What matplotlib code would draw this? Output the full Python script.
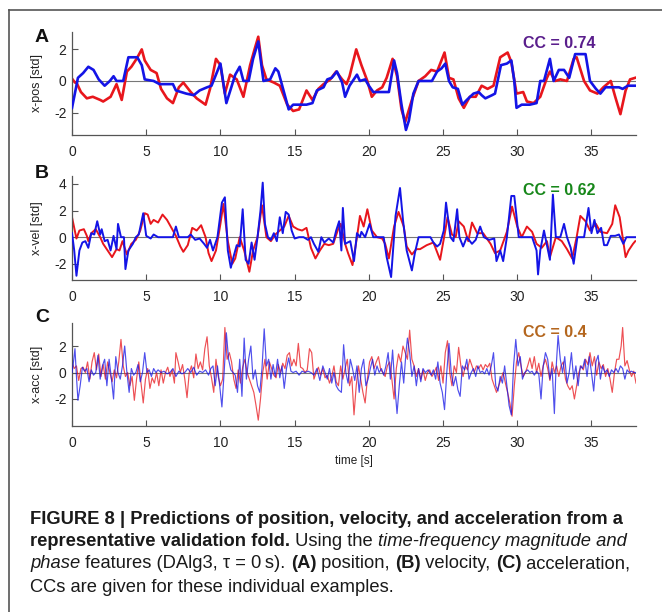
import matplotlib
matplotlib.use('Agg')
import matplotlib.pyplot as plt
from matplotlib import font_manager
import numpy as np

pos_real = [(0, 0.15), (0.2, -0.1), (0.3, -0.1), (0.6, -0.7), (1.0, -1.1), (1.4, -1.0), (1.9, -1.2), (2.1, -1.3),
            (2.6, -1.0), (3.0, -0.2), (3.35, -1.2), (3.7, 0.6), (4.0, 0.9), (4.35, 1.4), (4.7, 2.0), (4.9, 1.3),
            (5.3, 0.7), (5.7, 0.5), (6.0, -0.5), (6.4, -1.1), (6.8, -1.4), (7.2, -0.4), (7.5, -0.1), (8.0, -0.7),
            (8.4, -1.1), (9.0, -1.5), (9.3, -0.5), (9.7, 1.4), (10.0, 1.0), (10.3, -0.8), (10.65, 0.4), (11.1, 0.1),
            (11.55, -1.0), (12.0, 1.0), (12.3, 2.0), (12.55, 2.8), (12.8, 1.0), (13.1, 0.1), (13.6, -0.1), (14.0, -0.3),
            (14.5, -1.5), (14.9, -1.9), (15.3, -1.8), (15.8, -0.6), (16.2, -1.2), (16.6, -0.5), (16.95, -0.2),
            (17.4, 0.1), (17.8, 0.6), (18.2, 0.1), (18.5, -0.2), (18.7, 0.3), (19.15, 2.0), (19.5, 1.0), (19.9, 0.0),
            (20.2, -1.0), (20.55, -0.6), (20.9, -0.4), (21.2, 0.2), (21.6, 1.4), (21.9, 0.3), (22.2, -1.8),
            (22.45, -2.6), (22.9, -1.2), (23.35, 0.0), (23.8, 0.3), (24.2, 0.7), (24.6, 0.6), (25.1, 1.8), (25.4, 0.2),
            (25.7, 0.1), (26.05, -1.1), (26.4, -1.7), (26.8, -1.0), (27.2, -1.0), (27.6, -0.3), (28.0, -0.5),
            (28.4, -0.3), (28.85, 1.5), (29.35, 1.8), (29.6, 1.2), (29.95, -0.8), (30.4, -0.7), (30.65, -1.3),
            (31.1, -1.4), (31.55, -1.0), (32.0, 0.2), (32.2, 0.6), (32.55, 0.0), (32.9, 0.1), (33.35, 0.0),
            (33.8, 1.4), (34.0, 1.5), (34.5, 0.0), (34.9, -0.6), (35.4, -0.8), (35.8, -0.4), (36.3, 0.0), (36.6, -1.0),
            (36.95, -2.1), (37.3, -0.6), (37.6, 0.1), (37.95, 0.2)]

pos_pred = [(0, -1.7), (0.15, -1.0), (0.4, 0.2), (0.75, 0.5), (1.1, 0.9), (1.45, 0.7), (1.8, 0.1), (2.2, -0.3),
            (2.55, 0.0), (2.8, 0.3), (3.0, 0.0), (3.45, 0.0), (3.8, 1.5), (4.4, 1.5), (4.7, 1.0), (4.9, 0.1),
            (5.5, 0.0), (5.9, -0.2), (6.8, -0.2), (7.0, -0.6), (7.7, -0.8), (8.2, -0.9), (8.6, -0.6), (9.1, -0.4),
            (9.4, -0.3), (10.0, 1.1), (10.4, -1.4), (10.8, -0.2), (11.0, 0.4), (11.3, 0.9), (11.55, 0.0), (11.9, 0.0),
            (12.2, 1.4), (12.55, 2.5), (12.9, 0.0), (13.35, 0.1), (13.7, 0.8), (13.9, 0.6), (14.25, -0.6),
            (14.6, -1.8), (14.9, -1.5), (15.8, -1.5), (16.2, -1.4), (16.5, -0.6), (16.95, -0.4), (17.2, 0.1),
            (17.5, 0.2), (17.85, 0.6), (18.2, -0.1), (18.4, -1.0), (18.7, -0.3), (19.2, 0.4), (19.4, 0.0),
            (19.75, 0.1), (20.0, -0.3), (20.3, -0.7), (21.0, -0.7), (21.35, -0.7), (21.7, 1.3), (21.9, 0.5),
            (22.2, -1.5), (22.5, -3.1), (22.7, -2.5), (23.0, -0.8), (23.35, 0.0), (24.25, 0.0), (24.6, 0.6),
            (24.9, 0.8), (25.15, 1.1), (25.4, 0.0), (25.65, -0.4), (26.0, -0.5), (26.3, -1.5), (26.6, -1.2),
            (27.05, -0.8), (27.4, -0.7), (27.6, -0.9), (27.85, -1.1), (28.3, -0.9), (28.5, -0.8), (28.9, 1.0),
            (29.3, 1.1), (29.6, 1.3), (29.8, 0.0), (29.95, -1.7), (30.3, -1.5), (30.85, -1.5), (31.3, -1.4),
            (31.55, 0.0), (31.8, 0.0), (32.2, 1.4), (32.45, 0.0), (32.8, 0.7), (33.15, 0.7), (33.5, 0.2), (33.9, 1.7),
            (34.6, 1.7), (34.9, 0.0), (35.3, -0.5), (35.6, -0.8), (35.95, -0.4), (36.85, -0.4), (37.1, -0.5),
            (37.45, -0.3), (38.0, -0.3)]

vel_real = [(0, 1.5), (0.3, -0.1), (0.5, 0.5), (0.8, 0.6), (1.0, 0.1), (1.1, -0.3), (1.3, 0.3), (1.6, 0.6),
            (1.9, 0.0), (2.1, -0.5), (2.4, -1.0), (2.7, -1.5), (3.0, -0.9), (3.2, -1.0), (3.4, -0.3), (3.7, -1.3),
            (4.0, -0.5), (4.3, -0.2), (4.6, 0.5), (4.9, 1.8), (5.1, 1.7), (5.3, 1.0), (5.5, 1.3), (5.8, 1.1),
            (6.1, 1.7), (6.4, 1.3), (6.7, 0.7), (7.0, 0.1), (7.3, -0.7), (7.5, -1.1), (7.8, -0.6), (8.1, 0.7),
            (8.4, 0.5), (8.7, 0.9), (9.0, 0.0), (9.2, -1.2), (9.4, -1.8), (9.7, -1.0), (10.0, 1.0), (10.2, 2.5),
            (10.5, -0.3), (10.8, -2.0), (11.0, -1.6), (11.3, 0.0), (11.6, -1.0), (11.95, -2.6), (12.2, -1.0),
            (12.5, 0.0), (12.8, 2.4), (13.1, 0.0), (13.4, -0.3), (13.7, 0.2), (14.0, 0.5), (14.3, 0.8), (14.6, 1.6),
            (14.9, 0.8), (15.2, 0.6), (15.5, 0.5), (15.8, 0.7), (16.1, -0.8), (16.4, -1.6), (16.7, -1.0),
            (17.0, -0.5), (17.3, -0.6), (17.6, -0.5), (17.9, 0.5), (18.1, 1.0), (18.4, -0.5), (18.6, -1.2),
            (18.9, -2.1), (19.2, 0.0), (19.4, 1.6), (19.65, 0.8), (19.9, 2.1), (20.2, 0.5), (20.55, 0.0),
            (20.9, -0.1), (21.1, -0.5), (21.35, -1.6), (21.7, 0.8), (22.0, 1.9), (22.35, 0.8), (22.55, -0.7),
            (22.9, -1.3), (23.2, -0.9), (23.45, -0.9), (23.9, -0.6), (24.35, -0.4), (24.8, -1.7), (25.15, 0.5),
            (25.3, 1.5), (25.6, 0.2), (25.85, 0.0), (26.05, 1.2), (26.4, 0.8), (26.7, -0.3), (26.95, 1.1),
            (27.3, 0.3), (27.7, 0.3), (28.2, -0.5), (28.5, -1.2), (28.85, -1.0), (29.3, 0.4), (29.65, 2.3),
            (30.0, 0.8), (30.3, 0.0), (30.65, 0.8), (31.0, 0.4), (31.3, -0.5), (31.65, -0.8), (32.0, -0.3),
            (32.2, -1.5), (32.6, 0.0), (33.0, -0.3), (33.35, -0.9), (33.7, -1.6), (34.0, 0.0), (34.25, 1.6),
            (34.6, 1.2), (34.9, 0.5), (35.3, 1.0), (35.6, 0.4), (36.05, 0.3), (36.4, 1.0), (36.6, 2.4), (36.9, 1.5),
            (37.1, 0.0), (37.3, -1.5), (37.5, -1.0), (37.8, -0.5), (37.95, -0.3)]

vel_pred = [(0, 0.3), (0.15, -1.0), (0.3, -2.9), (0.5, -1.0), (0.7, -0.4), (0.9, -0.3), (1.1, -0.8), (1.3, 0.3),
            (1.5, 0.2), (1.7, 1.2), (1.9, 0.2), (2.0, 0.6), (2.2, -0.3), (2.4, -0.2), (2.6, -1.0), (2.8, 0.1),
            (3.0, -0.9), (3.1, 1.0), (3.3, 0.0), (3.5, 0.0), (3.6, -2.4), (3.8, -1.0), (4.1, -0.5), (4.3, 0.0),
            (4.5, 0.2), (4.8, 1.8), (5.0, 0.1), (5.3, -0.1), (5.5, 0.2), (5.8, 0.0), (6.1, 0.0), (6.5, 0.0),
            (6.8, 0.0), (7.0, 0.8), (7.2, 0.0), (7.5, 0.0), (7.8, 0.0), (8.0, 0.2), (8.3, -0.2), (8.6, -0.1),
            (8.9, -0.5), (9.1, -0.8), (9.3, -0.2), (9.5, -1.0), (9.8, 0.0), (10.1, 2.6), (10.3, 3.0), (10.5, -1.0),
            (10.7, -2.3), (10.9, -1.4), (11.1, -0.6), (11.3, -0.7), (11.5, 2.1), (11.7, -1.7), (11.9, -2.0),
            (12.1, -0.4), (12.3, -1.7), (12.5, 0.0), (12.7, 2.0), (12.85, 4.1), (13.0, 1.0), (13.2, 0.0),
            (13.4, -0.2), (13.6, 0.3), (13.8, -0.3), (14.0, 1.5), (14.2, 0.3), (14.4, 1.9), (14.6, 1.7), (14.8, 0.5),
            (15.0, -0.1), (15.3, 0.0), (15.6, 0.0), (15.9, -0.2), (16.1, 0.0), (16.3, -0.5), (16.6, -1.1),
            (16.8, 0.0), (17.0, -0.4), (17.3, -0.1), (17.6, -0.4), (17.8, 0.5), (18.0, 1.2), (18.15, -1.0),
            (18.25, 2.2), (18.4, -0.5), (18.75, -0.3), (19.0, -1.8), (19.2, 0.3), (19.4, 0.0), (19.5, 0.4),
            (19.75, 0.0), (20.05, 1.0), (20.3, 0.0), (21.0, 0.0), (21.2, -1.5), (21.5, -3.0), (21.8, 1.6),
            (22.1, 3.7), (22.3, 1.3), (22.55, -1.0), (22.9, -2.5), (23.1, -1.2), (23.35, 0.0), (24.15, 0.0),
            (24.35, -0.4), (24.6, -0.7), (24.8, -0.5), (25.05, 0.5), (25.2, 2.6), (25.5, 0.0), (25.7, -0.3),
            (25.95, 2.1), (26.1, 0.0), (26.35, -0.7), (26.6, 0.0), (26.95, -0.5), (27.2, -0.2), (27.5, 0.8),
            (27.75, 0.0), (28.1, -0.2), (28.45, -0.1), (28.6, -1.8), (28.85, -1.0), (29.05, -1.8), (29.3, 0.0),
            (29.6, 3.1), (29.8, 3.1), (30.1, 0.0), (30.45, 0.0), (31.0, 0.0), (31.3, -1.0), (31.4, -2.8),
            (31.55, -1.0), (31.8, 0.5), (32.0, -0.6), (32.2, -1.7), (32.4, 3.2), (32.6, 0.0), (32.9, 0.0),
            (33.15, 1.0), (33.35, 0.0), (33.6, -0.8), (33.8, -2.0), (34.05, 0.0), (34.5, 0.0), (34.8, 2.2),
            (35.0, 0.3), (35.2, 1.3), (35.4, 0.3), (35.65, 0.7), (35.85, -0.6), (36.05, -0.6), (36.3, 0.1),
            (36.6, 0.1), (36.85, 0.2), (37.15, -0.5), (37.35, 0.0), (37.95, 0.0)]

acc_real = [(0, 0.8), (0.15, 0.3), (0.3, 0.5), (0.45, -0.6), (0.6, 0.3), (0.75, 0.4), (0.9, 0.0), (1.05, 0.8),
            (1.2, -0.5), (1.35, 0.8), (1.5, 1.5), (1.65, 0.2), (1.8, 1.4), (1.95, -0.3), (2.1, 0.6), (2.25, -0.5),
            (2.4, 0.8), (2.55, 0.0), (2.7, -0.7), (2.85, 0.2), (3.0, -0.4), (3.15, 0.8), (3.3, 2.5), (3.45, 0.5),
            (3.6, -0.3), (3.75, 0.0), (3.9, -1.0), (4.05, -0.3), (4.2, -2.1), (4.35, -0.5), (4.5, 0.8), (4.65, -0.8),
            (4.8, -2.3), (4.95, -0.5), (5.1, 0.3), (5.25, -1.2), (5.4, -0.4), (5.55, -0.8), (5.7, 0.0), (5.85, -1.0),
            (6.0, 0.2), (6.15, -0.8), (6.3, 0.0), (6.45, 0.4), (6.6, -0.3), (6.75, 0.2), (6.9, -0.8), (7.0, 1.5),
            (7.15, 0.8), (7.3, 0.0), (7.45, 0.6), (7.6, -0.5), (7.75, -1.9), (7.9, 0.0), (8.05, 0.5), (8.2, -0.4),
            (8.35, 1.4), (8.5, 0.3), (8.65, 0.8), (8.8, 0.2), (8.95, 1.8), (9.1, 2.7), (9.25, 0.5), (9.4, -0.4),
            (9.55, -1.5), (9.7, 1.0), (9.85, -0.3), (10.0, -1.0), (10.15, -0.5), (10.3, 3.4), (10.45, 1.0),
            (10.6, 1.5), (10.75, 0.8), (10.9, -0.5), (11.05, -1.2), (11.2, 0.2), (11.35, -0.8), (11.5, 0.4),
            (11.65, 1.0), (11.8, 0.0), (11.95, -0.5), (12.1, -1.0), (12.25, -1.5), (12.4, -2.5), (12.55, -3.6),
            (12.7, -2.0), (12.85, 0.0), (13.0, 1.0), (13.15, -0.5), (13.3, 0.8), (13.45, 0.3), (13.6, -0.2),
            (13.75, -0.4), (13.9, 0.6), (14.05, 0.0), (14.2, 0.7), (14.35, 0.3), (14.5, 1.3), (14.65, 1.5),
            (14.8, 0.5), (14.95, 1.0), (15.1, 0.5), (15.25, 2.2), (15.4, 0.4), (15.55, 0.3), (15.7, 0.0),
            (15.85, 0.2), (16.0, 1.8), (16.15, 1.5), (16.3, -0.5), (16.45, 0.0), (16.6, 0.4), (16.75, -0.2),
            (16.9, 0.3), (17.05, -0.4), (17.2, -0.2), (17.35, -0.8), (17.5, -0.3), (17.65, 0.5), (17.8, -0.7),
            (17.95, -1.0), (18.1, 0.5), (18.25, -0.5), (18.4, 0.3), (18.55, 1.0), (18.7, -1.0), (18.85, -0.3),
            (19.0, -3.2), (19.15, -1.0), (19.3, 0.5), (19.45, -0.5), (19.6, -1.5), (19.75, -2.3), (19.9, -0.5),
            (20.05, 0.8), (20.2, 1.2), (20.35, 0.3), (20.5, 0.8), (20.65, 1.2), (20.8, 0.2), (20.95, 0.0),
            (21.1, -0.3), (21.25, 0.5), (21.4, 0.8), (21.55, -0.5), (21.7, -2.0), (21.85, 0.3), (22.0, 1.4),
            (22.15, 0.8), (22.3, 2.0), (22.45, 1.5), (22.6, 1.0), (22.75, 3.2), (22.9, 1.0), (23.05, 0.5),
            (23.2, -0.3), (23.35, 0.3), (23.5, -0.5), (23.65, 0.2), (23.8, -0.6), (23.95, 0.0), (24.1, 0.2),
            (24.25, -0.3), (24.4, 0.0), (24.55, 0.4), (24.7, -0.6), (24.85, 0.5), (25.0, -0.8), (25.15, 1.5),
            (25.3, 2.4), (25.45, 0.0), (25.6, -1.0), (25.75, 0.5), (25.9, 0.0), (26.05, 1.9), (26.2, 0.5),
            (26.35, -0.3), (26.5, 0.5), (26.65, 0.2), (26.8, 1.0), (26.95, 0.5), (27.1, 0.0), (27.25, 0.5),
            (27.4, 0.3), (27.55, 0.6), (27.7, 0.2), (27.85, 0.6), (28.0, 0.4), (28.15, 0.7), (28.3, -0.5),
            (28.45, -1.0), (28.6, -1.5), (28.75, -1.0), (28.9, -0.5), (29.05, 0.0), (29.2, -0.8), (29.35, -1.5),
            (29.5, -2.3), (29.65, -3.3), (29.8, -1.0), (29.95, 0.8), (30.1, 1.5), (30.25, 0.5), (30.4, -0.3),
            (30.55, 0.0), (30.7, 0.5), (30.85, 1.1), (31.0, 0.3), (31.15, 1.2), (31.3, 0.0), (31.45, 0.7),
            (31.6, -0.3), (31.75, 0.5), (31.9, 1.0), (32.05, 0.3), (32.2, -0.6), (32.35, 0.8), (32.5, 0.0),
            (32.65, 0.5), (32.8, -0.3), (32.95, 0.5), (33.1, 0.8), (33.25, -0.5), (33.4, -1.0), (33.55, -1.3),
            (33.7, -1.0), (33.85, -2.0), (34.0, -1.0), (34.15, 0.0), (34.3, 0.5), (34.45, 0.2), (34.6, 1.0),
            (34.75, 0.6), (34.9, 1.5), (35.05, 0.5), (35.2, 1.2), (35.35, -0.2), (35.5, 0.8), (35.65, 0.3),
            (35.8, 0.6), (35.95, -0.3), (36.1, 0.3), (36.25, -0.5), (36.4, -1.5), (36.55, 0.0), (36.7, 1.0),
            (36.85, 1.0), (37.0, 2.0), (37.1, 3.4), (37.25, 0.5), (37.4, 0.9), (37.55, 0.2), (37.7, -0.3),
            (37.85, 0.1), (38.0, -0.8)]

acc_pred = [(0, 0.0), (0.1, 0.8), (0.2, 1.8), (0.3, -0.3), (0.4, -2.1), (0.55, -1.0), (0.7, 0.4), (0.85, 0.1),
            (1.0, 0.3), (1.15, -0.7), (1.3, 0.2), (1.45, -0.2), (1.6, 0.0), (1.75, 1.3), (1.9, -0.5), (2.05, 0.5),
            (2.2, 1.0), (2.35, -1.0), (2.5, 1.0), (2.65, -0.4), (2.8, -2.0), (2.95, 1.2), (3.1, 0.0), (3.25, -0.5),
            (3.4, 0.5), (3.55, 2.0), (3.7, 0.0), (3.85, -1.5), (4.0, 0.3), (4.15, -0.2), (4.3, 0.0), (4.45, 0.6),
            (4.6, -0.7), (4.75, 0.0), (4.9, 1.5), (5.05, 0.0), (5.2, 0.2), (5.35, -0.3), (5.5, 0.3), (5.65, 0.0),
            (5.8, 0.2), (6.0, 0.0), (6.2, 0.1), (6.4, -0.1), (6.6, 0.0), (6.8, 0.3), (7.0, -0.3), (7.2, 0.1),
            (7.4, -0.1), (7.6, 0.0), (7.8, 0.3), (8.0, 0.0), (8.2, 0.4), (8.4, -0.2), (8.6, 0.1), (8.8, 0.0),
            (9.0, 0.2), (9.2, -0.2), (9.35, 0.3), (9.5, 0.5), (9.65, -1.0), (9.8, 0.5), (9.95, -1.0), (10.1, -2.6),
            (10.25, 0.0), (10.4, 3.0), (10.55, 1.0), (10.7, 0.2), (10.85, 0.0), (11.0, -0.2), (11.15, -1.5),
            (11.3, 1.0), (11.45, -1.8), (11.6, 2.6), (11.75, -0.5), (11.9, 1.0), (12.05, 2.0), (12.2, -0.5),
            (12.35, 0.2), (12.5, -1.0), (12.65, -1.5), (12.8, 0.3), (12.95, 3.3), (13.1, 0.5), (13.25, 1.0),
            (13.4, -0.5), (13.55, 0.6), (13.7, -0.3), (13.85, 1.0), (14.0, -0.4), (14.15, 0.5), (14.3, -1.2),
            (14.45, 0.3), (14.6, 1.1), (14.75, 0.1), (14.9, 0.0), (15.1, 0.1), (15.3, -0.2), (15.5, 0.1),
            (15.7, 0.0), (15.9, 0.1), (16.1, 0.0), (16.3, -0.2), (16.5, 0.3), (16.7, -0.6), (16.9, 0.5),
            (17.05, 0.0), (17.2, -0.5), (17.35, 0.3), (17.5, -0.8), (17.65, 0.0), (17.8, -1.0), (17.95, -1.3),
            (18.15, -1.5), (18.3, 2.1), (18.45, 0.0), (18.6, -0.8), (18.75, 1.0), (18.9, 0.3), (19.05, -0.6),
            (19.2, 0.5), (19.35, -1.5), (19.5, 0.3), (19.65, 1.0), (19.8, -1.0), (19.95, -0.5), (20.1, 0.3),
            (20.25, 1.0), (20.4, -0.2), (20.55, 0.5), (20.7, 0.0), (20.85, 0.3), (21.0, -0.2), (21.15, 0.5),
            (21.3, 1.5), (21.45, -0.5), (21.6, 1.7), (21.75, -1.0), (21.9, -3.1), (22.05, -1.0), (22.2, 0.8),
            (22.35, -0.8), (22.5, 1.5), (22.6, 2.6), (22.75, 1.5), (22.9, -0.3), (23.05, 0.5), (23.2, -1.0),
            (23.35, 0.3), (23.5, -0.7), (23.65, 0.3), (23.8, 0.0), (24.0, 0.2), (24.2, -0.2), (24.35, 0.2),
            (24.5, -0.5), (24.65, 0.8), (24.8, -0.8), (24.95, -1.5), (25.1, -2.8), (25.25, 0.0), (25.4, 2.2),
            (25.55, 0.0), (25.7, -1.0), (25.85, -0.3), (26.0, -1.3), (26.15, -1.8), (26.3, 0.5), (26.45, 0.2),
            (26.6, 1.0), (26.75, -0.5), (26.9, 0.0), (27.05, 0.3), (27.2, -0.3), (27.35, 0.5), (27.5, 0.0),
            (27.65, 0.1), (27.8, -0.1), (27.95, 0.3), (28.1, -0.2), (28.25, 0.5), (28.4, 1.5), (28.55, -1.0),
            (28.7, -1.4), (28.85, -0.3), (29.0, -0.8), (29.15, 0.5), (29.3, -1.0), (29.45, -2.5), (29.6, -3.2),
            (29.75, 0.5), (29.9, 2.5), (30.05, 0.5), (30.2, 1.2), (30.35, -0.5), (30.5, 0.0), (30.7, 0.2),
            (30.85, 0.0), (31.0, 0.1), (31.15, -0.2), (31.3, 0.1), (31.45, -0.1), (31.6, -2.0), (31.75, 0.5),
            (31.9, 1.5), (32.05, 1.0), (32.2, -0.5), (32.35, 0.3), (32.5, -3.1), (32.6, 0.0), (32.75, 2.8),
            (32.9, 1.0), (33.05, 0.0), (33.2, 1.2), (33.35, -0.8), (33.5, 0.0), (33.65, 1.5), (33.8, -0.5),
            (33.95, 0.5), (34.1, -1.0), (34.25, 0.5), (34.4, 0.3), (34.55, 1.0), (34.7, -0.3), (34.85, 1.2),
            (35.0, 0.0), (35.15, -1.4), (35.3, 0.8), (35.45, 1.3), (35.6, -0.5), (35.75, 0.5), (35.9, 0.0),
            (36.05, 0.2), (36.2, -0.3), (36.35, 0.2), (36.5, 0.0), (36.65, 0.3), (36.8, 0.0), (36.95, 0.5),
            (37.1, 0.3), (37.25, -0.5), (37.4, 0.2), (37.55, 0.0), (37.7, 0.1), (37.85, 0.0), (38.0, 0.0)]

panel_letters = ['A', 'B', 'C']
y_labels = ['x-pos [std]', 'x-vel [std]', 'x-acc [std]']
cc_labels = ['CC = 0.74', 'CC = 0.62', 'CC = 0.4']
cc_colors = ['#5a1e8c', '#17871a', '#b4661e']
y_ticks = [[-2, 0, 2], [-2, 0, 2, 4], [-2, 0, 2]]
y_limits = [(-3.42, 3.1), (-3.22, 4.6), (-4.04, 3.74)]
line_widths = [1.9, 1.4, 0.85]
x_ticks = [0, 5, 10, 15, 20, 25, 30, 35]


def pick_font(*names):
    installed = {f.name for f in font_manager.fontManager.ttflist}
    for n in names:
        if n in installed:
            return n
    return 'DejaVu Sans'


main_font = pick_font('Liberation Sans', 'Arial', 'DejaVu Sans')
plt.rcParams['font.family'] = [main_font, 'DejaVu Sans']
plt.rcParams['axes.unicode_minus'] = False

W, H = 662, 612
fig = plt.figure(figsize=(W / 100, H / 100), dpi=100)
fig.patch.set_facecolor('white')

# frame lines (top + left) as in the journal layout
fig.add_artist(plt.Line2D([9 / W, 9 / W], [0, 1 - 10 / H], color='#555555', lw=1.2))
fig.add_artist(plt.Line2D([9 / W, 1], [1 - 10 / H, 1 - 10 / H], color='#555555', lw=1.2))

# axes boxes in pixels: (top, bottom)
boxes = [(32, 135), (176, 280), (323, 426)]
left_px, right_px = 72, 636
series = [(pos_real, pos_pred), (vel_real, vel_pred), (acc_real, acc_pred)]
cc_y = [0.893, 0.856, 0.903]
letter_y = [38, 173, 317]

for i, ((top, bot), (real, pred)) in enumerate(zip(boxes, series)):
    ax = fig.add_axes([left_px / W, 1 - bot / H, (right_px - left_px) / W, (bot - top) / H])
    ax.axhline(0, color='#777777', lw=0.8, zorder=1)
    tr, vr = np.array(real).T
    tp, vp = np.array(pred).T
    alpha = 0.75 if i == 2 else 1.0
    ax.plot(tr, vr, color='#e8161c', lw=line_widths[i], alpha=alpha, zorder=2)
    ax.plot(tp, vp, color='#1414e6', lw=line_widths[i], alpha=alpha, zorder=3)
    ax.set_xlim(0, 38)
    ax.set_ylim(*y_limits[i])
    ax.set_xticks(x_ticks)
    ax.set_yticks(y_ticks[i])
    for s in ['top', 'right']:
        ax.spines[s].set_visible(False)
    for s in ['left', 'bottom']:
        ax.spines[s].set_color('#555555')
        ax.spines[s].set_linewidth(0.9)
    ax.tick_params(direction='in', length=4, width=0.8, color='#555555', labelsize=10,
                   labelcolor='#222222')
    ax.tick_params(axis='x', pad=7)
    ax.tick_params(axis='y', pad=4)
    ax.set_ylabel(y_labels[i], fontsize=9, color='#222222')
    ax.yaxis.set_label_coords(-0.051, 0.5)
    ax.text(0.80, cc_y[i], cc_labels[i], transform=ax.transAxes, color=cc_colors[i],
            fontsize=11.5, fontweight='bold', ha='left', va='center')
    fig.text(35 / W, 1 - letter_y[i] / H, panel_letters[i], fontsize=14, fontweight='bold',
             ha='left', va='center', color='#111111')
    if i == 2:
        ax.set_xlabel('time [s]', fontsize=8.5, color='#222222', labelpad=4)

# caption, placed piece by piece
caption = [
    [('FIGURE 8 | Predictions of position, velocity, and acceleration from a', 'bold', 'normal')],
    [('representative validation fold.', 'bold', 'normal'), (' Using the ', 'normal', 'normal'),
     ('time-frequency magnitude and', 'normal', 'italic')],
    [('phase', 'normal', 'italic'), (' features (DAlg3, \u03c4 = 0\u2009s). ', 'normal', 'normal'),
     ('(A)', 'bold', 'normal'), (' position, ', 'normal', 'normal'), ('(B)', 'bold', 'normal'),
     (' velocity, ', 'normal', 'normal'), ('(C)', 'bold', 'normal'), (' acceleration,', 'normal', 'normal')],
    [('CCs are given for these individual examples.', 'normal', 'normal')],
]
line_y = [519, 542, 564, 587]
renderer = fig.canvas.get_renderer()

# scale font so the first line spans roughly the same width as the original
probe = fig.text(0, 0, caption[0][0][0], fontsize=12, fontweight='bold')
pw = probe.get_window_extent(renderer).width
probe.remove()
cap_size = 12 * 592 / pw

for parts, yy in zip(caption, line_y):
    x = 30
    for txt, weight, style in parts:
        t = fig.text(x / W, 1 - yy / H, txt, fontsize=cap_size, fontweight=weight, fontstyle=style,
                     ha='left', va='center', color='#1a1a1a')
        x += t.get_window_extent(renderer).width

fig.savefig('out.png', dpi=100, facecolor='white')
